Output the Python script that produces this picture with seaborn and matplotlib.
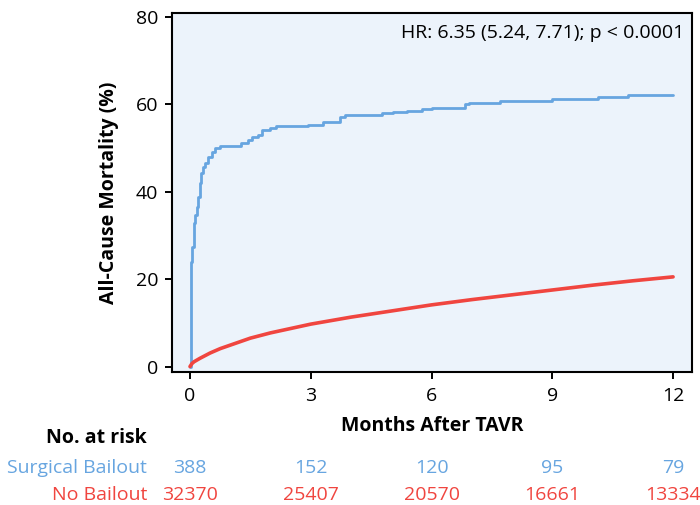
import matplotlib
matplotlib.use("Agg")
import matplotlib.pyplot as plt
import seaborn as sns
import pandas as pd

# ---- data ----
surg_months = [0, 0.02, 0.05, 0.09, 0.12, 0.17, 0.21, 0.25, 0.27, 0.32, 0.37, 0.45, 0.55,
               0.62, 0.75, 1.27, 1.44, 1.54, 1.69, 1.79, 1.99, 2.14, 2.93, 3.30, 3.73,
               3.85, 4.77, 5.04, 5.39, 5.76, 6.01, 6.83, 6.93, 7.70, 8.99, 10.14, 10.88, 12.0]
surg_mort = [0, 24.0, 27.4, 33.0, 34.7, 36.6, 38.9, 42.0, 44.3, 45.7, 46.6, 48.0, 49.1,
             50.0, 50.5, 51.2, 51.9, 52.6, 53.0, 54.2, 54.6, 55.0, 55.4, 56.0, 57.2,
             57.5, 58.0, 58.3, 58.6, 58.9, 59.3, 60.0, 60.4, 60.8, 61.2, 61.6, 62.1, 62.1]
nob_months = [0, 0.05, 0.1, 0.25, 0.5, 0.75, 1, 1.5, 2, 2.5, 3, 4, 5, 6, 7, 8, 9, 10, 11, 12]
nob_mort = [0.1, 0.8, 1.2, 2.0, 3.2, 4.2, 5.0, 6.6, 7.8, 8.8, 9.8, 11.4, 12.8, 14.2,
            15.4, 16.5, 17.6, 18.7, 19.7, 20.6]

risk_times = [0, 3, 6, 9, 12]
risk_surg = [388, 152, 120, 95, 79]
risk_nob = [32370, 25407, 20570, 16661, 13334]
y_ticks = [0, 20, 40, 60, 80]

hr_text = "HR: 6.35 (5.24, 7.71); p < 0.0001"
blue = "#67A5E0"
red = "#F0453F"

sns.set_theme(style="ticks")
plt.rcParams["font.family"] = ["Open Sans", "DejaVu Sans"]
FS = 14

fig = plt.figure(figsize=(7.0, 5.05), dpi=100)
ax = fig.add_axes([172/700, 1-372/505, (692-172)/700, (372-13)/505])
ax.set_facecolor("#ECF3FB")

df_s = pd.DataFrame({"m": surg_months, "v": surg_mort})
df_n = pd.DataFrame({"m": nob_months, "v": nob_mort})
sns.lineplot(data=df_s, x="m", y="v", ax=ax, color=blue, lw=2.0,
             drawstyle="steps-post", estimator=None, sort=False)
sns.lineplot(data=df_n, x="m", y="v", ax=ax, color=red, lw=2.6,
             estimator=None, sort=False)

ax.set_xlim(-0.447, 12.47)
ax.set_ylim(-1.14, 80.9)
ax.set_xticks(risk_times)
ax.set_yticks(y_ticks)
ax.tick_params(axis="both", direction="out", length=5, width=1.4, labelsize=FS,
               colors="black")
ax.tick_params(axis="y", pad=5)
ax.tick_params(axis="x", pad=6)
for s in ax.spines.values():
    s.set_linewidth(1.5)
    s.set_color("black")

ax.set_xlabel("Months After TAVR", fontsize=FS, fontweight="bold", labelpad=8,
              color="black")
ax.set_ylabel("All-Cause Mortality (%)", fontsize=FS, fontweight="bold", labelpad=12,
              color="black")

ax.text(0.985, 0.945, hr_text, transform=ax.transAxes, ha="right", va="center",
        fontsize=FS, color="black")

# risk table
def fy(py):
    return 1 - py/505
fig.text(147/700, fy(438), "No. at risk", ha="right", va="center",
         fontsize=FS, fontweight="bold", color="black")
fig.text(147/700, fy(468), "Surgical Bailout", ha="right", va="center",
         fontsize=FS, color=blue)
fig.text(147/700, fy(495), "No Bailout", ha="right", va="center",
         fontsize=FS, color=red)
for t, a, b in zip(risk_times, risk_surg, risk_nob):
    xf = fig.transFigure.inverted().transform(ax.transData.transform((t, 0)))[0]
    fig.text(xf, fy(468), str(a), ha="center", va="center", fontsize=FS, color=blue)
    fig.text(xf, fy(495), str(b), ha="center", va="center", fontsize=FS, color=red)

fig.savefig("out.png", dpi=100)
